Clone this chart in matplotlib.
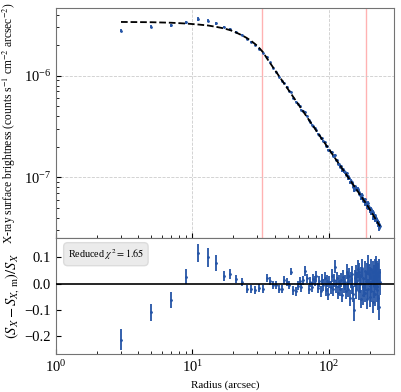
import numpy as np
import matplotlib
matplotlib.use('Agg')
import matplotlib.pyplot as plt

plt.rcParams['font.family'] = ['Liberation Serif', 'DejaVu Serif']
plt.rcParams['mathtext.fontset'] = 'stix'

# bin centres (arcsec)
radius = [3, 5, 7, 9, 11, 13, 15, 17, 19, 21, 23, 25, 27, 29, 31, 33, 35,
          37, 39, 41, 43, 45, 47, 49, 51, 53, 55, 57, 59, 61, 63, 65, 67, 69,
          71, 73, 75, 77, 79, 81, 83, 85, 87, 89, 91, 93, 95, 97, 99, 101,
          103, 105, 107, 109, 111, 113, 115, 117, 119, 121, 123, 125, 127,
          129, 131, 133, 135, 137, 139, 141, 143, 145, 147, 149, 151, 153,
          155, 157, 159, 161, 163, 165, 167, 169, 171, 173, 175, 177, 179,
          181, 183, 185, 187, 189, 191, 193, 195, 197, 199, 201, 203, 205,
          207, 209, 211, 213, 215, 217, 219, 221, 223, 225, 227, 229, 231,
          233, 235, 237]

# best-fit model surface brightness at each bin
model_sb = [3.39e-6, 3.37e-6, 3.33e-6, 3.27e-6, 3.20e-6, 3.13e-6, 3.03e-6,
            2.93e-6, 2.81e-6, 2.66e-6, 2.51e-6, 2.36e-6, 2.20e-6, 2.04e-6,
            1.87e-6, 1.70e-6, 1.50e-6,
            1.344e-6, 1.211e-6, 1.098e-6, 9.99e-7, 9.14e-7, 8.39e-7, 7.73e-7,
            7.14e-7, 6.62e-7, 6.15e-7,
            5.74e-7, 5.36e-7, 5.02e-7, 4.71e-7, 4.43e-7, 4.17e-7, 3.94e-7,
            3.72e-7, 3.52e-7, 3.34e-7,
            3.17e-7, 3.02e-7, 2.87e-7, 2.74e-7, 2.61e-7, 2.49e-7, 2.38e-7,
            2.28e-7, 2.19e-7, 2.10e-7,
            2.01e-7, 1.93e-7, 1.86e-7, 1.79e-7, 1.72e-7, 1.66e-7, 1.60e-7,
            1.54e-7, 1.49e-7, 1.44e-7,
            1.39e-7, 1.35e-7, 1.30e-7, 1.26e-7, 1.22e-7, 1.18e-7, 1.15e-7,
            1.11e-7, 1.08e-7, 1.05e-7,
            1.02e-7, 9.91e-8, 9.63e-8, 9.37e-8, 9.11e-8, 8.87e-8, 8.64e-8,
            8.42e-8, 8.20e-8, 7.99e-8,
            7.79e-8, 7.60e-8, 7.42e-8, 7.24e-8, 7.07e-8, 6.90e-8, 6.74e-8,
            6.59e-8, 6.44e-8, 6.30e-8,
            6.15e-8, 6.02e-8, 5.89e-8, 5.76e-8, 5.64e-8, 5.53e-8, 5.41e-8,
            5.30e-8,
            5.18e-8, 5.06e-8, 4.94e-8, 4.84e-8, 4.73e-8, 4.63e-8, 4.53e-8,
            4.43e-8, 4.34e-8, 4.25e-8,
            4.16e-8, 4.07e-8, 3.99e-8, 3.91e-8, 3.83e-8, 3.76e-8, 3.68e-8,
            3.61e-8, 3.54e-8, 3.47e-8, 3.41e-8, 3.34e-8, 3.28e-8]

# fractional residuals (S_X - S_X,m)/S_X and their errors
resid = [-0.215, -0.11, -0.062, 0.027, 0.118, 0.10, 0.078, 0.03, 0.035,
         0.017, 0.007, -0.022, -0.022, -0.024, -0.018, -0.02, 0.02, 0.009,
         -0.007, -0.004, -0.02, -0.02, 0.013, 0.005, -0.004, 0.046, -0.026,
         -0.030, -0.008, 0.010, -0.015, 0.012, 0.048, 0.020, -0.022, 0.005,
         -0.012, 0.018, 0.010, 0.028, -0.018, 0.008, -0.030, 0.015, -0.005,
         0.022, -0.025, 0.010, -0.040, 0.005, -0.015, 0.030, -0.022, 0.012,
         0.065, -0.010, 0.020, -0.035, 0.008, -0.020, 0.015, -0.045, 0.025,
         -0.010, 0.005, -0.030, 0.045, 0.010, -0.020, 0.030, -0.055, 0.015,
         -0.010, 0.035, -0.040, -0.100, 0.020, -0.025, 0.040, 0.010, 0.055,
         -0.030, 0.045, 0.000, -0.060, 0.030, 0.060, -0.045, 0.020, -0.015,
         0.050, -0.035, 0.010, -0.060, 0.040, 0.070, -0.020, 0.035, -0.050,
         0.025, 0.055, -0.030, 0.010, 0.045, -0.070, 0.030, -0.010, 0.050,
         -0.040, 0.020, 0.060, -0.025, 0.040, -0.055, 0.030, -0.090, 0.045,
         0.005]

resid_err = [0.04, 0.033, 0.03, 0.03, 0.035, 0.035, 0.03, 0.02, 0.019, 0.016,
             0.015, 0.015, 0.015, 0.015, 0.015, 0.015, 0.015, 0.015, 0.015,
             0.015, 0.015, 0.015, 0.015, 0.015, 0.015, 0.015, 0.016,
             0.016, 0.016, 0.017, 0.017, 0.017, 0.018, 0.018, 0.018, 0.019, 0.019,
             0.019, 0.020, 0.020, 0.020, 0.021, 0.021, 0.021, 0.022, 0.022, 0.022,
             0.023, 0.023, 0.023, 0.024, 0.024, 0.024, 0.025, 0.025, 0.025, 0.026,
             0.026, 0.026, 0.027, 0.027, 0.027, 0.028, 0.028, 0.028, 0.029, 0.029,
             0.029, 0.030, 0.030, 0.030, 0.031, 0.031, 0.031, 0.032, 0.045, 0.032,
             0.033, 0.033, 0.033, 0.034, 0.034, 0.034, 0.035, 0.035, 0.035, 0.036,
             0.036, 0.036, 0.037, 0.037, 0.037, 0.038, 0.038, 0.038, 0.039, 0.039,
             0.039, 0.040, 0.040, 0.041, 0.041, 0.042, 0.042, 0.043, 0.043, 0.044,
             0.044, 0.045, 0.045, 0.046, 0.046, 0.047, 0.047, 0.048, 0.048, 0.049,
             0.050]

region_edges = [32.5, 186]
red_chi2 = 1.65

radius = np.array(radius)
model_sb = np.array(model_sb)
resid = np.array(resid)
resid_err = np.array(resid_err)
sb = model_sb / (1 - resid)
sb_err = resid_err * sb

pt_col = '#2454a6'

fig = plt.figure(figsize=(4.02, 3.92), dpi=100)
ax1 = fig.add_axes([0.139, 0.393, 0.841, 0.587])
ax2 = fig.add_axes([0.139, 0.097, 0.841, 0.296], sharex=ax1)

ax1.errorbar(radius, sb, yerr=sb_err, fmt='.', ms=2, color=pt_col,
             ecolor=pt_col, elinewidth=1.3, capsize=0, zorder=2)
ax1.plot(radius, model_sb, 'k--', lw=1.3, zorder=3)
for r in region_edges:
    ax1.axvline(r, color='red', alpha=0.3, lw=1, zorder=1)
ax1.set_xscale('log')
ax1.set_yscale('log')
ax1.set_xlim(1, 300)
ax1.set_ylim(2.52e-8, 4.67e-6)
ax1.grid(which='major', ls='--', color='#cccccc', lw=0.6)
ax1.tick_params(labelbottom=False, labelsize=10.5)
ax1.tick_params(which='both', direction='in')
ax1.set_ylabel('X-ray surface brightness (counts s$^{-1}$ cm$^{-2}$ arcsec$^{-2}$)',
               fontsize=8.3)
ax1.yaxis.set_label_coords(-0.112, 0.5)

ax2.errorbar(radius, resid, yerr=resid_err, fmt='.', ms=2, color=pt_col,
             ecolor=pt_col, elinewidth=1.3, capsize=0, zorder=2)
ax2.axhline(0, color='k', lw=1.2, zorder=3)
ax2.set_ylim(-0.27, 0.175)
ax2.set_yticks([-0.2, -0.1, 0.0, 0.1])
ax2.tick_params(labelsize=10.5)
ax2.tick_params(which='both', direction='in')
ax2.set_xlabel('Radius (arcsec)', fontsize=8)
ax2.set_ylabel(r'$(S_X - S_{X,\,\mathrm{m}})/S_X$', fontsize=10.5)
ax2.yaxis.set_label_coords(-0.104, 0.5)
ax2.text(0.035, 0.86, r'Reduced $\chi^2 = %.2f$' % red_chi2, transform=ax2.transAxes,
         fontsize=7.3, va='center', ha='left',
         bbox=dict(boxstyle='round,pad=0.4', fc='#ebebeb', ec='#dcdcdc'))

for ax in (ax1, ax2):
    for s in ax.spines.values():
        s.set_color('0.45')

fig.savefig('out.png', dpi=100)
